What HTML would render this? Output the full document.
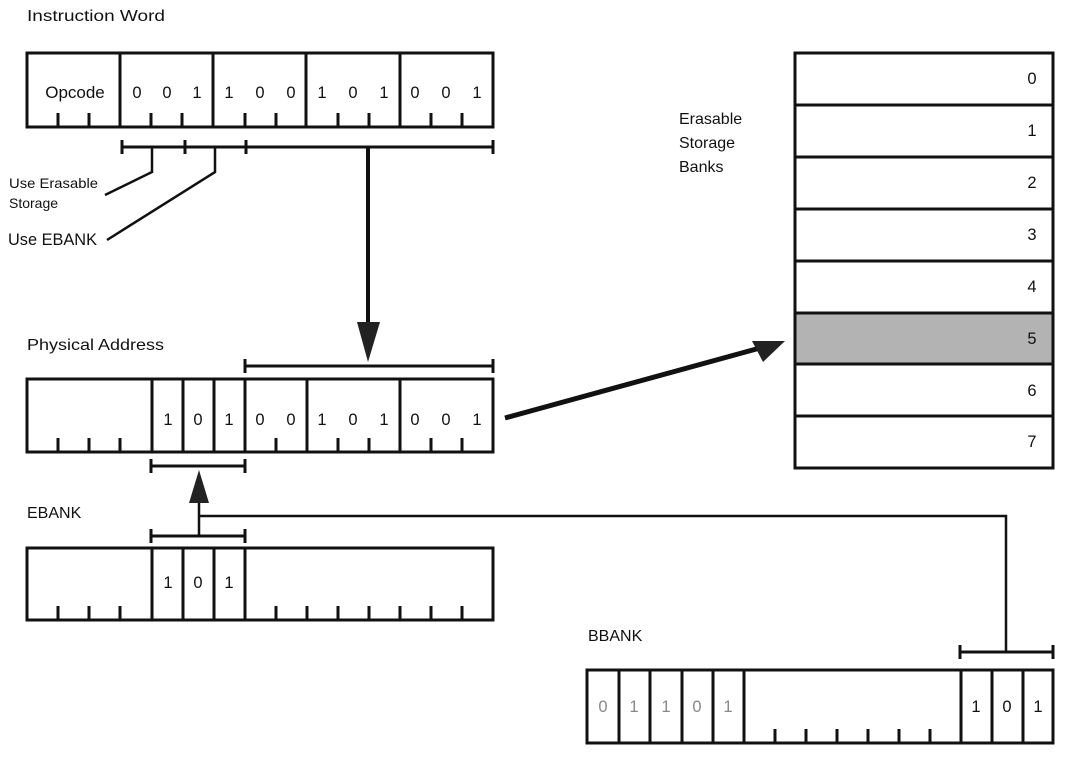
<!DOCTYPE html>
<html><head><meta charset="utf-8"><style>
html,body{margin:0;padding:0;background:#fff;}
svg{display:block;font-family:"Liberation Sans",sans-serif;}
</style></head><body>
<svg width="1073" height="765" viewBox="0 0 1073 765" xmlns="http://www.w3.org/2000/svg">
<g fill="#111" font-size="16">
<text x="27" y="21" textLength="138" lengthAdjust="spacingAndGlyphs">Instruction Word</text>
<text x="27" y="350" textLength="137" lengthAdjust="spacingAndGlyphs">Physical Address</text>
<text x="27" y="518">EBANK</text>
<text x="588" y="641">BBANK</text>
<text x="679" y="124">Erasable</text>
<text x="679" y="148">Storage</text>
<text x="679" y="172">Banks</text>
<text x="9" y="188" font-size="14" textLength="89" lengthAdjust="spacingAndGlyphs">Use Erasable</text>
<text x="9" y="208" font-size="14">Storage</text>
<text x="8" y="245" font-size="17" textLength="89" lengthAdjust="spacingAndGlyphs">Use EBANK</text>
</g>
<g stroke="#111" stroke-width="3" fill="none">
<rect x="27" y="53" width="466" height="74"/>
<path d="M120 53V127M213 53V127M306 53V127M400 53V127"/>
<path d="M58 113V127M89 113V127M151 113V127M182 113V127M245 113V127M276 113V127M338 113V127M369 113V127M431 113V127M462 113V127"/>
<path d="M122 147H493M122 140V154M185 140V154M246 140V154M493 140V154"/>
<path d="M152 147V172L105 195" stroke-width="2.5"/>
<path d="M215 147V172L107 240" stroke-width="2.5"/>
<path d="M368 147V330" stroke-width="4"/>
<path d="M245 366H493M245 359V373M493 359V373"/>
<rect x="27" y="379" width="466" height="73"/>
<path d="M152 379V452M183 379V452M214 379V452M245 379V452M307 379V452M400 379V452"/>
<path d="M58 438V452M89 438V452M120 438V452M276 438V452M338 438V452M369 438V452M431 438V452M462 438V452"/>
<path d="M151 466H245M151 459V473M245 459V473"/>
<path d="M199 500V536M199 516H1006V652" stroke-width="2.5"/>
<path d="M151 536H245M151 529V543M245 529V543"/>
<rect x="27" y="548" width="466" height="72"/>
<path d="M152 548V620M183 548V620M214 548V620M245 548V620"/>
<path d="M58 606V620M89 606V620M120 606V620M276 606V620M307 606V620M338 606V620M369 606V620M400 606V620M431 606V620M462 606V620"/>
<path d="M960 652H1053M960 645V659M1053 645V659"/>
<rect x="587" y="670" width="466" height="73"/>
<path d="M619 670V743M650 670V743M682 670V743M713 670V743M744 670V743M961 670V743M992 670V743M1023 670V743"/>
<path d="M775 729V743M806 729V743M837 729V743M868 729V743M899 729V743M930 729V743"/>
<rect x="795" y="313" width="258" height="51" fill="#b3b3b3" stroke="none"/>
<rect x="795" y="53" width="258" height="415"/>
<path d="M795 105H1053M795 157H1053M795 209H1053M795 261H1053M795 313H1053M795 364H1053M795 416H1053"/>
<path d="M505 418L760 348" stroke-width="5"/>
</g>
<g fill="#222">
<polygon points="357,322 380,322 368,362"/>
<polygon points="199,470 189,503 209,503"/>
<polygon points="785,341 752,341 763,362"/>
</g>
<g font-size="16.5" fill="#111" text-anchor="middle">
<text x="75" y="98" font-size="17">Opcode</text>
<text x="137" y="98">0</text><text x="167" y="98">0</text><text x="197" y="98">1</text>
<text x="229" y="98">1</text><text x="260" y="98">0</text><text x="291" y="98">0</text>
<text x="322" y="98">1</text><text x="353" y="98">0</text><text x="384" y="98">1</text>
<text x="415" y="98">0</text><text x="446" y="98">0</text><text x="477" y="98">1</text>
<text x="168" y="425">1</text><text x="198" y="425">0</text><text x="229" y="425">1</text>
<text x="260" y="425">0</text><text x="291" y="425">0</text>
<text x="322" y="425">1</text><text x="353" y="425">0</text><text x="384" y="425">1</text>
<text x="415" y="425">0</text><text x="446" y="425">0</text><text x="477" y="425">1</text>
<text x="168" y="588">1</text><text x="198" y="588">0</text><text x="229" y="588">1</text>
<g fill="#888"><text x="603" y="712">0</text><text x="634" y="712">1</text><text x="666" y="712">1</text><text x="697" y="712">0</text><text x="728" y="712">1</text></g>
<text x="976" y="712">1</text><text x="1007" y="712">0</text><text x="1038" y="712">1</text>
<text x="1032" y="84">0</text><text x="1032" y="136">1</text><text x="1032" y="188">2</text><text x="1032" y="240">3</text>
<text x="1032" y="292">4</text><text x="1032" y="344">5</text><text x="1032" y="396">6</text><text x="1032" y="447">7</text>
</g>
</svg>
</body></html>
